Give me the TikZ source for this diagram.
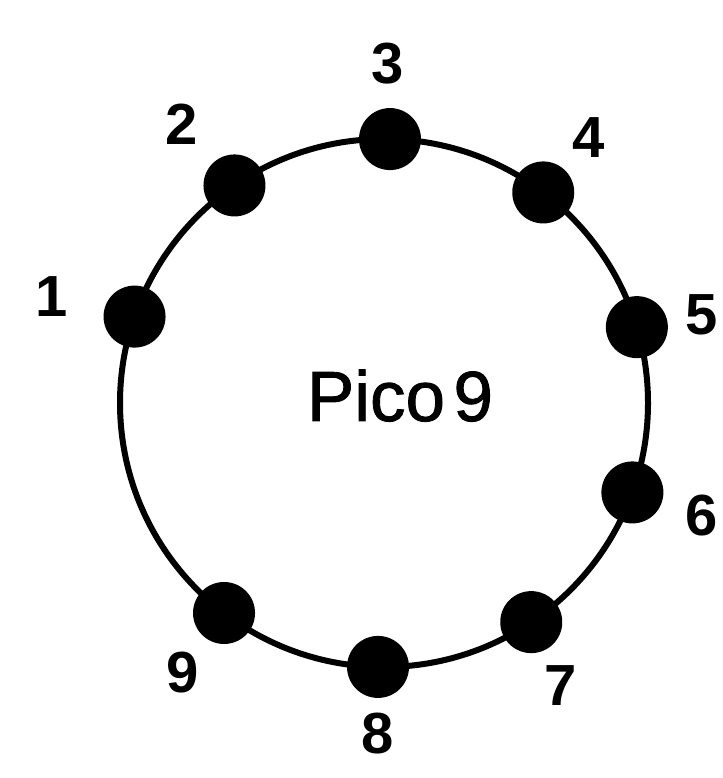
\documentclass[tikz,border=0pt]{standalone}
\usepackage{fontspec}
\setmainfont{Liberation Sans}
\newfontfamily\picofont[FakeBold=1.2]{Liberation Sans}
\usetikzlibrary{calc}
\begin{document}
\begin{tikzpicture}[x=1pt,y=1pt,
  dotnode/.style={circle,fill=black,draw=none,minimum size=62pt,inner sep=0pt},
  numlabel/.style={inner sep=0pt,font=\bfseries\fontsize{58}{58}\selectfont},
  ring/.style={line width=6pt}]
\useasboundingbox (0,0) rectangle (722,778);
\coordinate (c) at (384,375);
\draw[ring] (c) circle (264);
\foreach \n/\a in {1/160.9,2/124.5,3/88.7,4/52.9,5/16.7,6/-19.8,7/-56.1,8/-91.3,9/-127.3}{
  \node[dotnode] (d\n) at ($(c)+(\a:264)$) {};
}
\node[numlabel] (l1) at (52,481) {1};
\node[numlabel] (l2) at (182,654) {2};
\node[numlabel] (l3) at (388,714) {3};
\node[numlabel] (l4) at (589,640) {4};
\node[numlabel] (l5) at (702,463) {5};
\node[numlabel] (l6) at (702,262) {6};
\node[numlabel] (l7) at (561,92) {7};
\node[numlabel] (l8) at (378,44) {8};
\node[numlabel] (l9) at (183,105) {9};
\node[inner sep=0pt,anchor=base,font=\picofont\fontsize{71}{71}\selectfont] (title) at (400,357) {Pico\hspace{0.12em}9};
\end{tikzpicture}
\end{document}
